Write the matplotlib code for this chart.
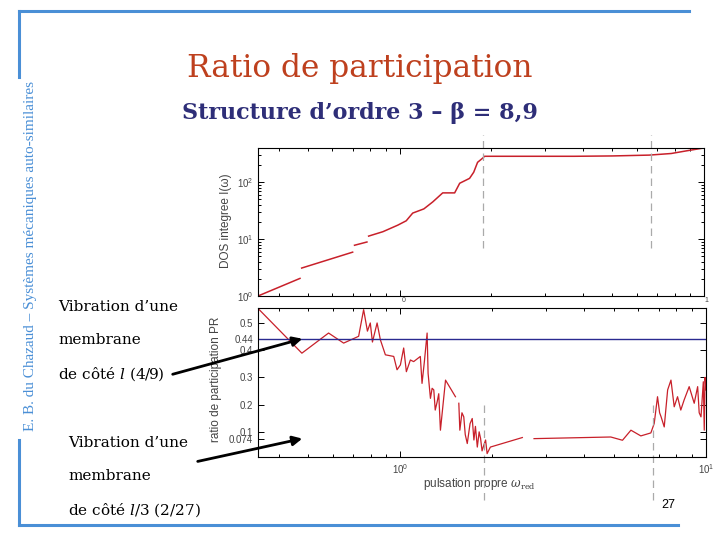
import matplotlib.pyplot as plt
import numpy as np

# slide 27 - ratio de participation, structure d'ordre 3

# DOS integree I(w) (nan = gap in the curve)
omega_dos = [0.342, 0.47, np.nan, 0.476, 0.70, np.nan, 0.71, 0.78, np.nan, 0.79,
             0.88, 0.985, 1.05, 1.103, 1.20, 1.283, 1.384, 1.515, 1.574, 1.696,
             1.75, 1.802, 1.871, 1.90, 3.75, 5.0, 6.6, 7.8, 8.72, 9.8]
dos = [1.0, 2.04, np.nan, 3.1, 5.9, np.nan, 7.8, 8.9, np.nan, 11.3,
       13.5, 17.6, 21.0, 28.7, 34.0, 45.0, 65.0, 65.0, 96.0, 117.0,
       150.0, 224.0, 264.0, 286.0, 286.0, 290.0, 300.0, 320.0, 355.0, 394.0]

# ratio de participation PR, bottom panel
omega_pr = [0.343, 0.476, 0.582, 0.652, 0.730, 0.758, 0.78, 0.797, 0.81, 0.839,
            0.86, 0.893, 0.951, 0.975, 1.0, 1.025, 1.046, 1.078, 1.105, 1.162,
            1.177, 1.198, 1.223, 1.232, 1.254, 1.27, 1.286, 1.30, 1.319, 1.335,
            1.352, 1.405, 1.514, np.nan, 1.553, 1.565, 1.59, 1.612, 1.63, 1.655,
            1.69, 1.718, 1.74, 1.76, 1.785, 1.81, 1.83, 1.85, 1.875, 1.90,
            1.922, 1.97, 2.506, np.nan, 2.737, 4.88, 5.33, 5.68, 6.12, 6.6,
            6.77, 6.94, 7.05, 7.13, 7.3, 7.49, 7.68, 7.87, 8.07, 8.27,
            8.48, 8.81, 9.15, 9.39, 9.5, 9.63, 9.8, 9.87, 9.93, 10.0]
pr = [0.552, 0.389, 0.463, 0.426, 0.451, 0.549, 0.47, 0.50, 0.43, 0.50,
      0.438, 0.383, 0.377, 0.328, 0.346, 0.408, 0.321, 0.364, 0.358, 0.377,
      0.278, 0.358, 0.463, 0.315, 0.223, 0.26, 0.254, 0.18, 0.21, 0.24,
      0.106, 0.29, 0.229, np.nan, 0.205, 0.106, 0.17, 0.155, 0.09, 0.057,
      0.13, 0.149, 0.07, 0.12, 0.044, 0.10, 0.075, 0.03, 0.051, 0.07,
      0.02, 0.044, 0.079, np.nan, 0.075, 0.081, 0.069, 0.106, 0.085, 0.096,
      0.131, 0.229, 0.17, 0.155, 0.118, 0.254, 0.29, 0.192, 0.229, 0.18,
      0.217, 0.266, 0.205, 0.266, 0.17, 0.155, 0.284, 0.106, 0.30, 0.254]

pr_ticks = [0.074, 0.1, 0.2, 0.3, 0.4, 0.44, 0.5]
pr_tick_labels = ['0.074', '0.1', '0.2', '0.3', '0.4', '0.44', '0.5']
pr_ref = 0.44
omega_marks = [1.88, 6.7]

W, H = 720, 540
red = '#C8202A'
slide_blue = '#4A8FD6'
axcol = '#444444'

plt.rcParams['font.family'] = 'Liberation Sans'
plt.rcParams['mathtext.fontset'] = 'dejavuserif'

fig = plt.figure(figsize=(7.2, 5.4), dpi=100)

def fx(x):
    return x / W

def fy(y):
    return 1 - y / H

# slide frame
fig.add_artist(plt.Line2D([fx(19), fx(689)], [fy(11), fy(11)], color=slide_blue, lw=2.2))
fig.add_artist(plt.Line2D([fx(19), fx(19)], [fy(11), fy(77)], color=slide_blue, lw=2.2))
fig.add_artist(plt.Line2D([fx(19), fx(19)], [fy(440), fy(525)], color=slide_blue, lw=2.2))
fig.add_artist(plt.Line2D([fx(19), fx(678)], [fy(525), fy(525)], color=slide_blue, lw=2.2))
fig.text(fx(31), fy(256), 'E. B. du Chazaud – Systèmes mécaniques auto-similaires',
         rotation=90, ha='center', va='center', color=slide_blue,
         family='Liberation Serif', fontsize=11)

fig.text(0.5, fy(68), 'Ratio de participation', ha='center', va='center',
         family='DejaVu Serif', fontsize=22.5, color='#BE401E')
fig.text(0.5, fy(113), 'Structure d’ordre 3 – β = 8,9', ha='center', va='center',
         family='DejaVu Serif', fontsize=16, fontweight='bold', color='#2E2E78')

# top panel
ax1 = fig.add_axes([fx(258), fy(296), fx(704 - 258), (296 - 148) / H])
ax1.plot(omega_dos, dos, color=red, lw=1.1)
ax1.set_xscale('log')
ax1.set_yscale('log')
ax1.set_xlim(0.342, 10)
ax1.set_ylim(1, 400)
ax1.tick_params(axis='x', labelbottom=False)
ax1.set_ylabel('DOS integree I(ω)', fontsize=8.5, color=axcol)
ax1.yaxis.set_label_coords(-0.058, 0.51)
for om in omega_marks:
    ax1.axvline(om, ymin=0.324, ymax=1.088, color='#AAAAAA', lw=0.9,
                ls=(0, (6, 4)), clip_on=False)
# only the exponents of the top x labels peek out above the lower panel
fig.text(fx(404), fy(301), '0', ha='center', va='center', fontsize=5, color=axcol)
fig.text(fx(706), fy(301), '1', ha='center', va='center', fontsize=5, color=axcol)

# bottom panel
ax2 = fig.add_axes([fx(258), fy(457), fx(706 - 258), (457 - 308) / H])
ax2.plot(omega_pr, pr, color=red, lw=0.9)
ax2.axhline(pr_ref, color='#2A2A90', lw=1.0)
ax2.set_xscale('log')
ax2.set_xlim(0.342, 10)
ax2.set_ylim(0.0075, 0.555)
ax2.set_yticks(pr_ticks)
ax2.set_yticklabels(pr_tick_labels)
ax2.set_ylabel('ratio de participation PR', fontsize=8.5, color=axcol)
ax2.yaxis.set_label_coords(-0.080, 0.52)
ax2.set_xlabel(r'pulsation propre $\omega_{\rm red}$', fontsize=8.5, color=axcol)
ax2.xaxis.set_label_coords(0.495, -0.13)
for om in omega_marks:
    ax2.axvline(om, ymin=-0.29, ymax=0.362, color='#AAAAAA', lw=0.9,
                ls=(0, (6, 4)), clip_on=False)

for ax in (ax1, ax2):
    ax.tick_params(which='both', direction='in', top=True, right=True,
                   labelsize=7, labelcolor=axcol, width=0.7)
    ax.tick_params(which='major', length=4)
    ax.tick_params(which='minor', length=2.5)
    for s in ax.spines.values():
        s.set_linewidth(0.8)

# annotations on the left
for txt, y in [('Vibration d’une', 307), ('membrane', 340)]:
    fig.text(fx(58), fy(y), txt, va='center', family='DejaVu Serif', fontsize=11)
fig.text(fx(58), fy(374), 'de côté $l$ (4/9)', va='center', family='DejaVu Serif', fontsize=11)
for txt, y in [('Vibration d’une', 443), ('membrane', 476)]:
    fig.text(fx(68), fy(y), txt, va='center', family='DejaVu Serif', fontsize=11)
fig.text(fx(68), fy(510), 'de côté $l/3$ (2/27)', va='center', family='DejaVu Serif', fontsize=11)

for tail, head in [((170, 375), (305, 338)), ((195, 462), (305, 438))]:
    fig.add_artist(plt.matplotlib.patches.FancyArrowPatch(
        (fx(tail[0]), fy(tail[1])), (fx(head[0]), fy(head[1])),
        transform=fig.transFigure, arrowstyle='-|>', mutation_scale=14,
        color='black', lw=2))

fig.text(fx(668), fy(505), '27', ha='center', va='center', fontsize=9)

fig.savefig('out.png', dpi=100)
